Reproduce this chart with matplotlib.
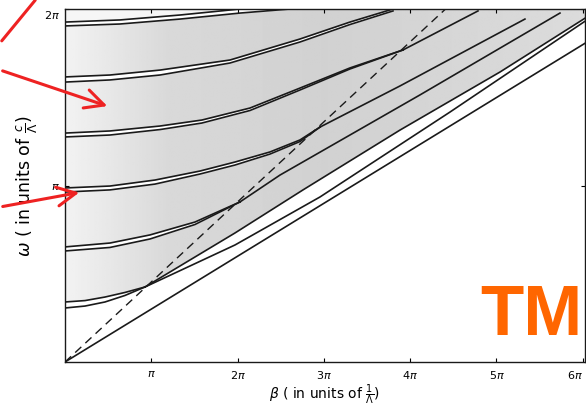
import numpy as np
import matplotlib.pyplot as plt
from matplotlib.path import Path
from matplotlib.patches import PathPatch

# all values in units of pi (beta -> x, omega -> y)
light_beta = [0.0, 6.03]
light_omega = [0.0, 1.807]
brewster_beta = [0.0, 4.41]
brewster_omega = [0.0, 2.0]

# gap pairs near beta = 0 (lower edge, upper edge) up to the Brewster crossing
pair1_beta = [0.0, 0.232, 0.463, 0.695, 0.927]
pair1_low = [0.306, 0.317, 0.340, 0.377, 0.425]
pair1_up = [0.340, 0.348, 0.368, 0.394, 0.425]
pair2_beta = [0.0, 0.521, 0.985, 1.506, 2.028]
pair2_low = [0.629, 0.649, 0.697, 0.779, 0.907]
pair2_up = [0.652, 0.674, 0.720, 0.793, 0.907]
pair3_beta = [0.0, 0.521, 1.043, 1.564, 1.970, 2.375, 2.723, 2.955]
pair3_low = [0.963, 0.975, 1.008, 1.065, 1.116, 1.178, 1.249, 1.331]
pair3_up = [0.986, 0.997, 1.031, 1.082, 1.133, 1.190, 1.258, 1.331]
pair4_beta = [0.0, 0.521, 1.101, 1.587, 2.144, 2.723, 3.302, 3.917]
pair4_low = [1.275, 1.286, 1.317, 1.354, 1.425, 1.541, 1.660, 1.768]
pair4_up = [1.297, 1.309, 1.337, 1.371, 1.439, 1.552, 1.666, 1.768]
pair5_beta = [0.0, 0.521, 1.101, 1.912, 2.723, 3.302, 3.801]
pair5_low = [1.586, 1.598, 1.626, 1.694, 1.813, 1.912, 1.989]
pair5_up = [1.615, 1.626, 1.654, 1.711, 1.830, 1.926, 2.0]
pair6_beta = [0.0, 0.637, 1.333, 2.028, 2.607]
pair6_low = [1.904, 1.915, 1.943, 1.977, 2.0]
pair6_up = [1.926, 1.938, 1.966, 2.0, 2.0]

# branches beyond the Brewster crossings (lower right wedge)
e_beta = [0.927, 1.970, 2.955, 4.461, 6.03]
e_omega = [0.425, 0.663, 0.935, 1.416, 1.932]
c2_beta = [0.927, 1.970, 2.758, 3.882, 5.041, 6.03]
c2_omega = [0.425, 0.731, 0.975, 1.314, 1.643, 1.949]
d_beta = [2.028, 2.491, 4.113, 5.736]
d_omega = [0.907, 1.059, 1.513, 1.977]
c_beta = [2.955, 3.882, 5.330]
c_omega = [1.331, 1.564, 1.943]
b_beta = [3.917, 4.786]
b_omega = [1.768, 1.989]

x_ticks = [1, 2, 3, 4, 5, 6]
x_tick_labels = [r'$\pi$', r'$2\pi$', r'$3\pi$', r'$4\pi$', r'$5\pi$', r'$6\pi$']
y_ticks = [1, 2]
y_tick_labels = [r'$\pi$', r'$2\pi$']

X_MAX = 6.026
fig = plt.figure(figsize=(5.86, 4.07), dpi=100)
ax = fig.add_axes([65 / 586, 45 / 407, 520 / 586, 353 / 407])
ax.set_xlim(0, X_MAX)
ax.set_ylim(0, 2.0)

# stippled grey of the allowed bands, lighter towards beta = 0
poly = list(zip(pair1_beta, pair1_up)) + list(zip(c2_beta[1:], c2_omega[1:]))
poly += [(X_MAX, 2.0), (0.0, 2.0)]
grad = np.interp(np.linspace(0, X_MAX, 300), [0, 1.2, 3.0, 6.0], [0.95, 0.85, 0.82, 0.86])
img = ax.imshow(np.tile(grad, (10, 1)), extent=[0, X_MAX, 0, 2.0], aspect='auto',
                cmap='gray', vmin=0, vmax=1, origin='lower', zorder=0)
patch = PathPatch(Path(poly), facecolor='none', edgecolor='none')
ax.add_patch(patch)
img.set_clip_path(patch)

# narrow gaps stay white, and so does the strip above the top pair
for pb, lo, up in [(pair2_beta, pair2_low, pair2_up), (pair3_beta, pair3_low, pair3_up),
                   (pair4_beta, pair4_low, pair4_up), (pair5_beta, pair5_low, pair5_up),
                   (pair6_beta, pair6_low, pair6_up)]:
    ax.fill_between(pb, lo, up, color='white', lw=0, zorder=1)
ax.fill_between(pair6_beta, pair6_up, 2.0, color='#f6f6f6', lw=0, zorder=1)

lw = 1.2
ink = '#1a1a1a'
ax.plot(light_beta, light_omega, color=ink, lw=lw, zorder=3)
ax.plot(brewster_beta, brewster_omega, color=ink, lw=1.0, ls=(0, (6, 4)), zorder=3)
for pb, lo, up in [(pair1_beta, pair1_low, pair1_up), (pair2_beta, pair2_low, pair2_up),
                   (pair3_beta, pair3_low, pair3_up), (pair4_beta, pair4_low, pair4_up),
                   (pair5_beta, pair5_low, pair5_up), (pair6_beta, pair6_low, pair6_up)]:
    ax.plot(pb, lo, color=ink, lw=lw, zorder=3)
    ax.plot(pb, up, color=ink, lw=lw, zorder=3)
for bb, oo in [(e_beta, e_omega), (c2_beta, c2_omega), (d_beta, d_omega),
               (c_beta, c_omega), (b_beta, b_omega)]:
    ax.plot(bb, oo, color=ink, lw=lw, zorder=3)

ax.set_xticks(x_ticks)
ax.set_xticklabels(x_tick_labels, fontsize=8)
ax.get_xticklabels()[-1].set_horizontalalignment('right')
ax.set_yticks(y_ticks)
ax.set_yticklabels(y_tick_labels, fontsize=8)
ax.get_yticklabels()[-1].set_verticalalignment('top')
ax.tick_params(direction='in', length=3, width=0.8, top=True, right=True)
ax.tick_params(axis='x', pad=5)
for s in ax.spines.values():
    s.set_linewidth(1.0)
    s.set_color(ink)

ax.set_xlabel(r'$\beta$ ( in units of $\frac{1}{\Lambda}$)', fontsize=10, labelpad=1)
ax.set_ylabel(r'$\omega$ ( in units of $\frac{c}{\Lambda}$)', fontsize=12.5, labelpad=3)

ax.text(0.995, 0.0765, 'TM', transform=ax.transAxes, ha='right', va='baseline',
        fontsize=51, fontweight='bold', color='#ff6600', family='Liberation Sans')

# red arrows of the slide
red = dict(color='#ee2222', lw=2.2)
ax.annotate('', xy=(37, 409), xytext=(0, 364), xycoords='figure pixels',
            textcoords='figure pixels', annotation_clip=False,
            arrowprops=dict(arrowstyle='-', **red))
ax.annotate('', xy=(110, 300), xytext=(0, 337), xycoords='figure pixels',
            textcoords='figure pixels', annotation_clip=False,
            arrowprops=dict(arrowstyle='->', mutation_scale=34, **red))
ax.annotate('', xy=(82, 215), xytext=(0, 200), xycoords='figure pixels',
            textcoords='figure pixels', annotation_clip=False,
            arrowprops=dict(arrowstyle='->', mutation_scale=34, **red))

fig.savefig('out.png', dpi=100)
